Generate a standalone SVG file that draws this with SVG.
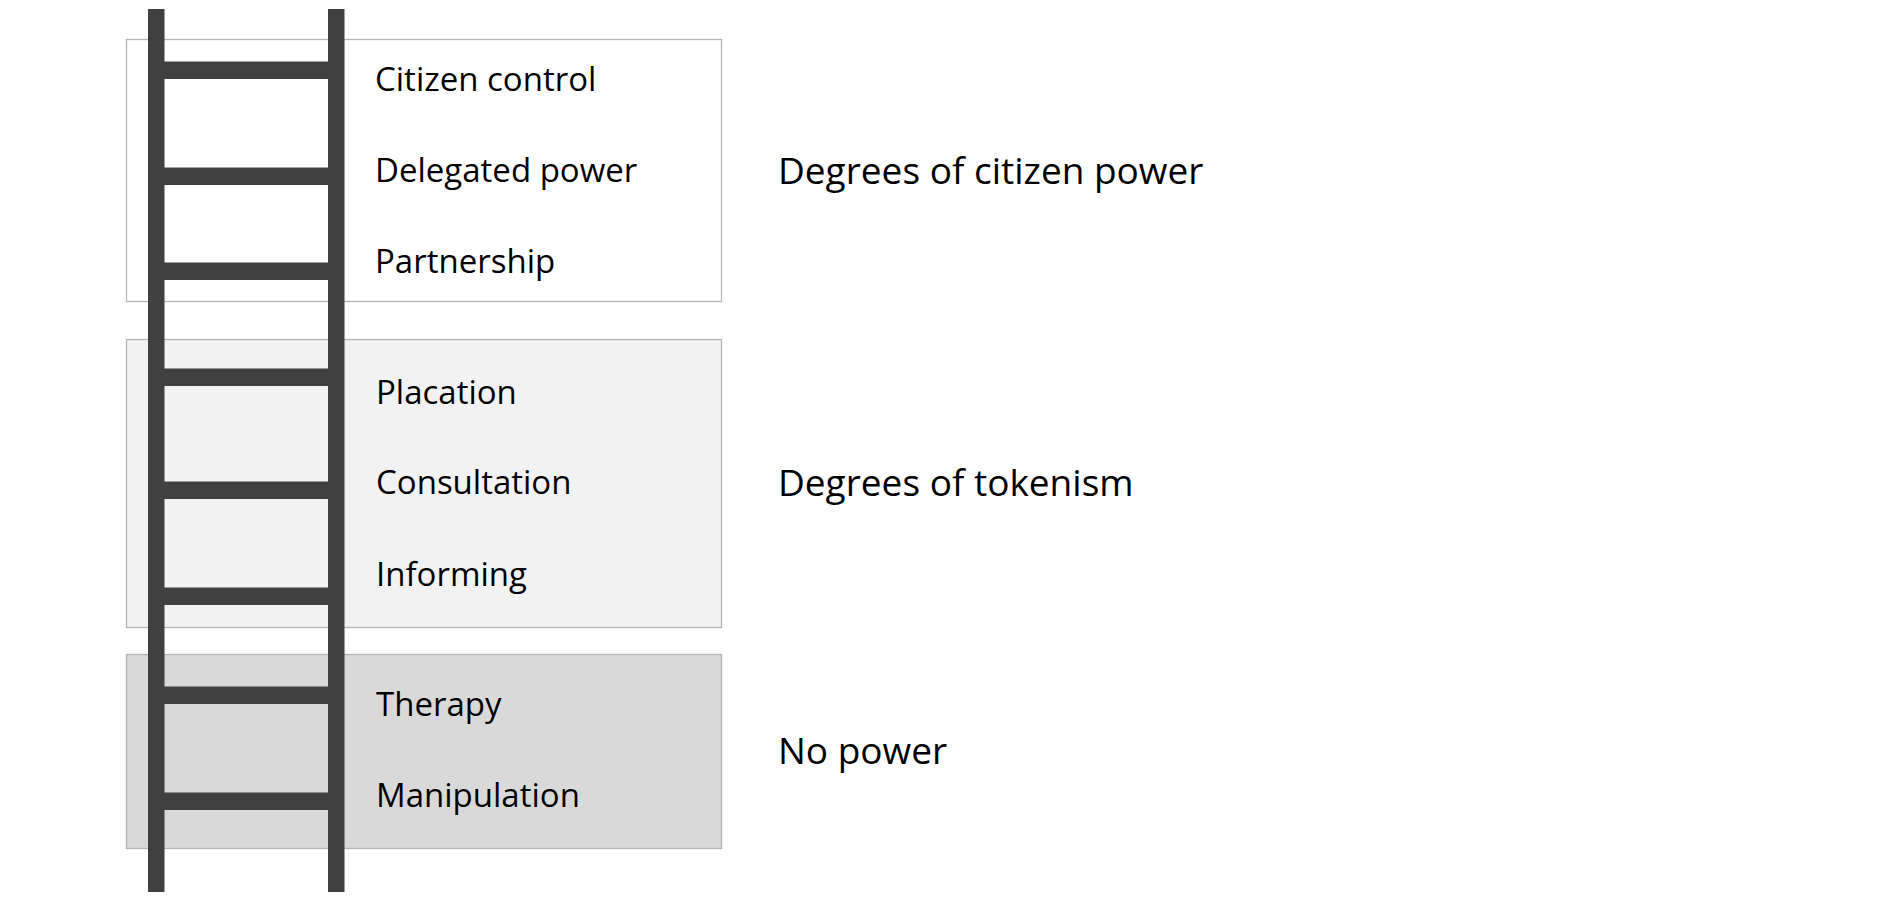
<svg xmlns="http://www.w3.org/2000/svg" width="1890" height="901" viewBox="0 0 1890 901">
<style>
.box{stroke:#b4b4b4;stroke-width:1.3}
.rail{fill:#404040}
.item{font-family:"Open Sans","Liberation Sans",sans-serif;font-size:33px;fill:#000}
.cat{font-family:"Open Sans","Liberation Sans",sans-serif;font-size:37px;fill:#000}
</style>
<rect width="1890" height="901" fill="#fff"/>
<g id="box-citizen-power">
<rect class="box" x="126.5" y="39.5" width="595" height="262" fill="#ffffff"/>
</g>
<g id="box-tokenism">
<rect class="box" x="126.5" y="339.5" width="595" height="288" fill="#f2f2f2"/>
</g>
<g id="box-no-power">
<rect class="box" x="126.5" y="654.5" width="595" height="194" fill="#d9d9d9"/>
</g>
<g id="ladder">
<rect class="rail" x="148" y="9" width="16.5" height="883"/>
<rect class="rail" x="328" y="9" width="16.5" height="883"/>
<rect class="rail" x="164" y="61.5" width="164" height="17.5"/>
<rect class="rail" x="164" y="167.5" width="164" height="17.5"/>
<rect class="rail" x="164" y="262.5" width="164" height="17.5"/>
<rect class="rail" x="164" y="368.5" width="164" height="17.5"/>
<rect class="rail" x="164" y="481.5" width="164" height="17.5"/>
<rect class="rail" x="164" y="587.5" width="164" height="17.5"/>
<rect class="rail" x="164" y="686.5" width="164" height="17.5"/>
<rect class="rail" x="164" y="792.5" width="164" height="17.5"/>
</g>
<g id="rungs-labels">
<text class="item" x="375" y="91">Citizen control</text>
<text class="item" x="375" y="182">Delegated power</text>
<text class="item" x="375" y="273">Partnership</text>
<text class="item" x="376" y="404">Placation</text>
<text class="item" x="376" y="494">Consultation</text>
<text class="item" x="376" y="586">Informing</text>
<text class="item" x="376" y="716">Therapy</text>
<text class="item" x="376" y="807">Manipulation</text>
</g>
<g id="category-labels">
<text class="cat" x="778" y="184">Degrees of citizen power</text>
<text class="cat" x="778" y="496">Degrees of tokenism</text>
<text class="cat" x="778" y="764">No power</text>
</g>
<g id="connectors"/>
</svg>
